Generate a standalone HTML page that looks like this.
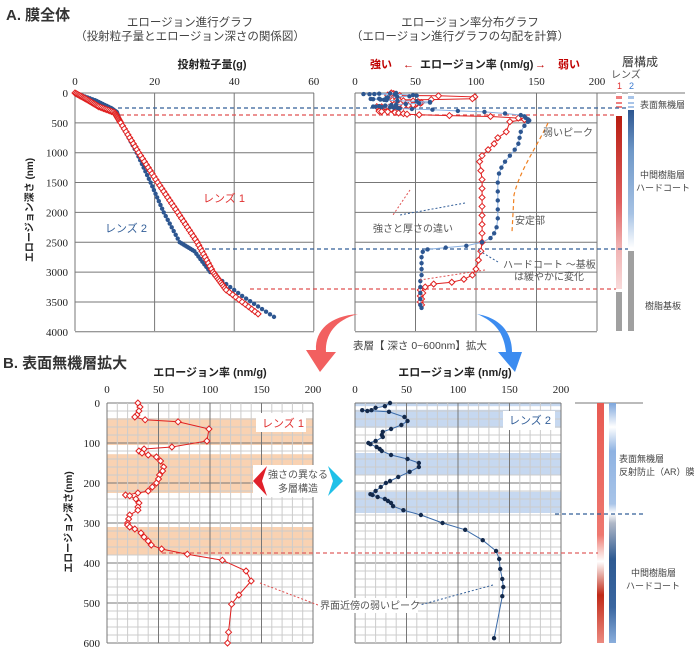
<!DOCTYPE html>
<html><head><meta charset="utf-8"><style>
body{margin:0;background:#fff}
svg{display:block;font-family:"Liberation Sans","Noto Sans CJK JP",sans-serif}
</style></head><body>
<svg id="s" width="700" height="648" viewBox="0 0 700 648" xmlns="http://www.w3.org/2000/svg">
<defs>
<linearGradient id="r1" x1="0" y1="0" x2="0" y2="1">
<stop offset="0" stop-color="#b81c10"/><stop offset="0.5" stop-color="#e06060"/><stop offset="0.75" stop-color="#f0b0b0"/><stop offset="1" stop-color="#f8dada"/></linearGradient>
<linearGradient id="b1" x1="0" y1="0" x2="0" y2="1">
<stop offset="0" stop-color="#2d5690"/><stop offset="0.3" stop-color="#6f98c8"/><stop offset="0.75" stop-color="#a6c2e4"/><stop offset="1" stop-color="#ffffff"/></linearGradient>
<linearGradient id="r2" x1="0" y1="0" x2="0" y2="1">
<stop offset="0" stop-color="#e85a52"/><stop offset="0.55" stop-color="#ee7870"/><stop offset="0.62" stop-color="#f8d0cc"/><stop offset="0.66" stop-color="#ffffff"/><stop offset="0.8" stop-color="#c02a18"/><stop offset="1" stop-color="#ec8a80"/></linearGradient>
<linearGradient id="b2" x1="0" y1="0" x2="0" y2="1">
<stop offset="0" stop-color="#7da6dc"/><stop offset="0.1" stop-color="#ffffff"/><stop offset="0.2" stop-color="#8eb2e2"/><stop offset="0.42" stop-color="#a8c4e8"/><stop offset="0.46" stop-color="#ffffff"/><stop offset="0.5" stop-color="#b0b8c8"/><stop offset="0.65" stop-color="#2e5a92"/><stop offset="0.85" stop-color="#3a66a0"/><stop offset="1" stop-color="#8aaedc"/></linearGradient>
</defs>
<g id="g"></g>
<!-- titles -->
<text x="6" y="20" font-size="15" font-weight="bold" fill="#333">A. 膜全体</text>
<text x="190" y="26" font-size="11.5" fill="#444" text-anchor="middle">エロージョン進行グラフ</text>
<text x="190" y="40" font-size="11.5" fill="#444" text-anchor="middle">（投射粒子量とエロージョン深さの関係図）</text>
<text x="470" y="26" font-size="11.5" fill="#444" text-anchor="middle">エロージョン率分布グラフ</text>
<text x="460" y="40" font-size="11.5" fill="#444" text-anchor="middle">（エロージョン進行グラフの勾配を計算）</text>
<text x="212" y="68" font-size="11" font-weight="bold" fill="#222" text-anchor="middle">投射粒子量(g)</text>
<text x="370" y="68" font-size="11" font-weight="bold" fill="#c00000">強い</text>
<text x="403" y="68" font-size="11" fill="#c00000">←</text>
<text x="420" y="68" font-size="11" font-weight="bold" fill="#222">エロージョン率 (nm/g)</text>
<text x="535" y="68" font-size="11" fill="#c00000">→</text>
<text x="558" y="68" font-size="11" font-weight="bold" fill="#c00000">弱い</text>
<text x="622" y="66" font-size="12" fill="#333">層構成</text>
<text x="611" y="78" font-size="10" fill="#555">レンズ</text>
<text x="617" y="89" font-size="9" fill="#e03030">1</text>
<text x="629" y="89" font-size="9" fill="#3a7ad0">2</text>
<text x="640" y="108" font-size="9" fill="#444">表面無機層</text>
<text x="640" y="178" font-size="9" fill="#444">中間樹脂層</text>
<text x="636" y="191" font-size="9" fill="#444">ハードコート</text>
<text x="645" y="309" font-size="9" fill="#444">樹脂基板</text>
<text x="203" y="202" font-size="11" fill="#e03030">レンズ 1</text>
<text x="105" y="232" font-size="11" fill="#335f99">レンズ 2</text>
<text x="33" y="210" font-size="10" font-weight="bold" fill="#222" text-anchor="middle" transform="rotate(-90 33 210)">エロージョン深さ (nm)</text>
<text x="543" y="136" font-size="10" fill="#555">弱いピーク</text>
<text x="515" y="224" font-size="10" fill="#555">安定部</text>
<text x="373" y="232" font-size="10" fill="#555">強さと厚さの違い</text>
<text x="503" y="268" font-size="10" fill="#555">ハードコート ～基板</text>
<text x="514" y="280" font-size="10" fill="#555">は緩やかに変化</text>
<text x="353" y="349" font-size="10.5" fill="#444">表層【 深さ 0~600nm】拡大</text>
<text x="3" y="368" font-size="15" font-weight="bold" fill="#333">B. 表面無機層拡大</text>
<text x="210" y="376" font-size="11" font-weight="bold" fill="#222" text-anchor="middle">エロージョン率 (nm/g)</text>
<text x="455" y="376" font-size="11" font-weight="bold" fill="#222" text-anchor="middle">エロージョン率 (nm/g)</text>
<text x="72" y="522" font-size="10" font-weight="bold" fill="#222" text-anchor="middle" transform="rotate(-90 72 522)">エロージョン深さ(nm)</text>
<rect x="256" y="413" width="50" height="19" fill="#fff"/>
<text x="262" y="427" font-size="11" fill="#e03030">レンズ 1</text>
<rect x="503" y="411" width="52" height="19" fill="#fff"/>
<text x="509" y="424" font-size="11" fill="#335f99">レンズ 2</text>
<rect x="253" y="465" width="88" height="32" fill="#fff"/>
<path d="M267 466 L253 481 L267 496 L262 481 Z" fill="#e0202a"/>
<path d="M328 466 L343 481 L328 496 L333 481 Z" fill="#20c0e8"/>
<text x="298" y="478" font-size="10" fill="#555" text-anchor="middle">強さの異なる</text>
<text x="298" y="492" font-size="10" fill="#555" text-anchor="middle">多層構造</text>
<text x="619" y="462" font-size="9" fill="#444">表面無機層</text>
<text x="619" y="475" font-size="9" fill="#444">反射防止（AR）膜</text>
<text x="631" y="576" font-size="9" fill="#444">中間樹脂層</text>
<text x="626" y="589" font-size="9" fill="#444">ハードコート</text>
<rect x="318" y="598" width="100" height="15" fill="#fff"/>
<text x="320" y="609" font-size="10" fill="#555">界面近傍の弱いピーク</text>
</svg>
<script>
var g=document.getElementById('g'),NS='http://www.w3.org/2000/svg';
function el(t,a){var e=document.createElementNS(NS,t);for(var k in a)e.setAttribute(k,a[k]);g.appendChild(e);return e;}
function ln(x1,y1,x2,y2,c,w,d){var a={x1:x1,y1:y1,x2:x2,y2:y2,stroke:c,'stroke-width':w||1};if(d)a['stroke-dasharray']=d;el('line',a);}
function tx(x,y,s,a,sz){var e=el('text',{x:x,y:y,'font-size':sz||11,'text-anchor':a||'middle',fill:'#222','font-family':'Liberation Serif,serif'});e.textContent=s;}
var AY=function(d){return 93+d*0.0597},AX=function(v){return 75+v*3.98};
for(var i=0;i<=8;i++){ln(75,AY(i*500),314,AY(i*500),'#777',1);tx(68,AY(i*500)+4,String(i*500),'end',11);}
for(var i=0;i<=3;i++){ln(AX(i*20),93,AX(i*20),331,'#777',1);tx(AX(i*20),85,String(i*20));}
var RX=function(v){return 355+v*1.21};
for(var i=0;i<=8;i++)ln(355,AY(i*500),597,AY(i*500),'#777',1);
ln(597,93,685,93,'#777',1);
for(var i=0;i<=4;i++){ln(RX(i*50),93,RX(i*50),331,'#777',1);tx(RX(i*50),85,String(i*50));}
el('rect',{x:616,y:93,width:6,height:238,fill:'#fff'});el('rect',{x:628,y:93,width:6,height:238,fill:'#fff'});
[[96,99],[102,104],[106,108]].forEach(function(r){el('rect',{x:616,y:r[0],width:6,height:r[1]-r[0],fill:'#f08080'});el('rect',{x:628,y:r[0],width:6,height:r[1]-r[0],fill:'#a8c4e8'});});
el('rect',{x:616,y:116,width:6,height:173,fill:'url(#r1)'});
el('rect',{x:628,y:110,width:6,height:138,fill:'url(#b1)'});
el('rect',{x:616,y:292,width:6,height:39,fill:'#a0a0a0'});
el('rect',{x:628,y:251,width:6,height:80,fill:'#a0a0a0'});
var BY=function(d){return 403+d*0.4};
var BL=function(v){return 107+v*1.03},BR=function(v){return 355+v*1.03};
[[38,105],[128,225],[310,380]].forEach(function(b){el('rect',{x:107,y:BY(b[0]),width:206,height:(b[1]-b[0])*0.4,fill:'#f9d2b2'});});
[[0,8],[17,62],[125,180],[222,275]].forEach(function(b){el('rect',{x:355,y:BY(b[0]),width:206,height:(b[1]-b[0])*0.4,fill:'#c6d8f0'});});
[[107,'l'],[355,'r']].forEach(function(p){var x0=p[0];
for(var d=0;d<=600;d+=20)ln(x0,BY(d),x0+206,BY(d),d%100?'#ccc':'#777',1);
for(var v=0;v<=200;v+=10)ln(x0+v*1.03,403,x0+v*1.03,643,v%50?'#ccc':'#777',1);
for(var v=0;v<=200;v+=50)tx(x0+v*1.03,393,String(v));
});
for(var d=0;d<=600;d+=100)tx(100,BY(d)+4,String(d),'end',11);
ln(575,403,643,403,'#777',1);
el('rect',{x:597,y:403,width:7,height:240,fill:'url(#r2)'});
el('rect',{x:609,y:403,width:7,height:240,fill:'url(#b2)'});
ln(118,108,628,108,'#335f99',1.2,'4,3');ln(120,115,616,115,'#e05050',1.2,'4,3');
ln(205,249,628,249,'#335f99',1.2,'4,3');ln(250,289,616,289,'#e05050',1.2,'4,3');
ln(555,514,645,514,'#335f99',1.2,'4,3');ln(162,553,598,553,'#e06060',1.2,'4,3');
var L1B=[[30,0],[32,10],[31,20],[29,30],[27,35],[37,42],[69,47],[99,65],[97,95],[63,110],[36,115],[31,120],[34,125],[40,130],[48,135],[52,145],[55,160],[54,170],[51,180],[50,190],[48,200],[44,210],[40,220],[30,225],[18,230],[22,232],[28,240],[31,250],[30,260],[30,268],[22,280],[21,290],[20,300],[20,305],[22,310],[27,315],[33,325],[36,335],[40,345],[43,355],[53,365],[78,378],[112,393],[135,420],[140,445],[128,480],[121,503],[118,573],[117,600]];
var L2B=[[34,0],[29,8],[20,12],[16,18],[12,20],[7,18],[33,22],[48,35],[51,45],[45,55],[35,65],[27,72],[26,80],[27,85],[20,95],[13,100],[15,103],[21,110],[24,115],[26,120],[35,130],[51,140],[62,150],[62,160],[53,172],[42,185],[34,195],[30,200],[25,210],[20,220],[15,228],[17,230],[22,235],[29,240],[32,245],[35,250],[37,258],[47,268],[64,280],[85,300],[107,317],[124,343],[137,370],[140,390],[141,415],[143,440],[144,460],[143,483],[135,588]];
function series(pts,fx,fy,c,lc,m){var s=pts.map(function(p){return fx(p[0]).toFixed(1)+','+fy(p[1]).toFixed(1)}).join(' ');
el('polyline',{points:s,fill:'none',stroke:lc,'stroke-width':1});
pts.forEach(function(p){var x=fx(p[0]),y=fy(p[1]);if(m=='d')el('path',{d:'M'+x+' '+(y-3)+'L'+(x+3)+' '+y+'L'+x+' '+(y+3)+'L'+(x-3)+' '+y+'Z',fill:'#fff',stroke:c,'stroke-width':1});else el('circle',{cx:x,cy:y,r:2.2,fill:c});});}
series(L1B,BL,BY,'#e02020','#e02020','d');
series(L2B,BR,BY,'#13294b','#3a6aa8','c');
var L1A=L1B.slice(0,46).concat([[125,650],[118,750],[115,850],[110,950],[105,1050],[103,1150],[104,1300],[105,1450],[105,1600],[105,1750],[105,1900],[105,2050],[105,2200],[105,2350],[105,2500],[104,2650],[102,2800],[100,2950],[97,3050],[90,3120],[80,3170],[65,3200],[58,3250],[54,3300],[56,3350],[54,3400],[55,3450],[54,3500],[55,3550]]);
var L2A=L2B.slice(0,48).concat([[140,550],[137,650],[136,750],[135,850],[132,950],[128,1050],[124,1150],[121,1250],[119,1350],[118,1500],[118,1650],[118,1800],[118,1950],[118,2100],[117,2250],[115,2350],[112,2430],[105,2500],[92,2560],[75,2590],[60,2620],[56,2660],[55,2750],[55,2850],[55,2950],[55,3050],[54,3150],[54,3250],[54,3350],[54,3450],[54,3550],[55,3600]]);
series(L1A,RX,AY,'#e02020','#e02020','d');
series(L2A,RX,AY,'#2d5690','#8ab0e0','c');
function mk(ctrl,n){var out=[];for(var i=0;i<ctrl.length-1;i++){var a=ctrl[i],b=ctrl[i+1];for(var k=0;k<n;k++){var t=k/n;out.push([a[0]+(b[0]-a[0])*t,a[1]+(b[1]-a[1])*t]);}}out.push(ctrl[ctrl.length-1]);return out;}
var r=mk([[0,0],[3,110],[6,230],[10,330],[11.5,500],[16,1000],[20.8,1500],[25.8,2000],[30.7,2500],[34.7,3000],[38,3300],[46,3700]],10);
var b=mk([[0,0],[5,120],[9,250],[10.5,320],[11.5,500],[15.5,1000],[19,1500],[22.3,2000],[26.3,2500],[30,2650],[34,3000],[42,3400],[50,3750]],8);
series(b,AX,AY,'#2d5690','#8ab0e0','c');
series(r,AX,AY,'#e02020','#e02020','d');
el('path',{d:'M548 123 C535 150 520 170 514 195 L512 232',fill:'none',stroke:'#f08020','stroke-width':1.2,'stroke-dasharray':'4,3'});
ln(410,190,393,215,'#e05050',1,'2,2');ln(465,203,400,215,'#335f99',1,'2,2');
ln(485,270,420,280,'#e05050',1,'2,2');ln(498,262,478,250,'#335f99',1,'2,2');
ln(260,583,318,605,'#e05050',1,'2,2');ln(493,585,420,605,'#335f99',1,'2,2');
el('path',{d:'M358 314 C335 320 325 335 326 352 L336 352 L320 372 L306 350 L316 350 C315 330 330 316 358 314 Z',fill:'#f26060'});
el('path',{d:'M477 314 C500 318 512 332 512 352 L522 352 L515 372 L498 352 L506 352 C504 334 496 322 477 314 Z',fill:'#3c8cf0'});
</script>
</body></html>
